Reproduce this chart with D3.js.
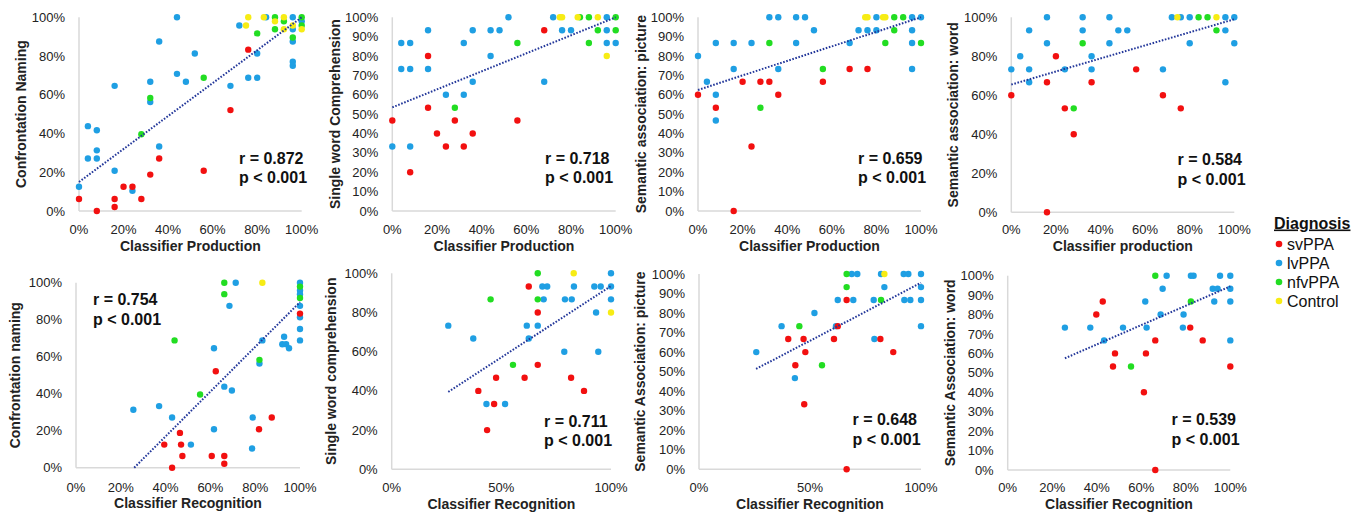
<!DOCTYPE html>
<html><head><meta charset="utf-8">
<script src="https://cdn.jsdelivr.net/npm/d3@7"></script>
<style>body{margin:0;background:#fff}svg{display:block}text{font-family:"Liberation Sans",Arial,sans-serif}</style>
</head><body><svg id="c" width="1363" height="516"></svg>
<script>
// ---------------- DATA ----------------
const groups = ["svPPA","lvPPA","nfvPPA","Control"];
const groupColors = ["#f21010","#1f9fe3","#22dd22","#f7ec14"];

// Panel 1: Classifier Production vs Confrontation Naming
const p1_sv = [[0,6.2],[8,0],[16,6.2],[16,2.1],[20,12.5],[24,12.5],[28,6.2],[32,18.8],[36,27.1],[56,20.8],[68,52.1],[76,83.3]];
const p1_lv = [[0,12.5],[4,43.8],[4,27.1],[8,41.7],[8,31.3],[8,27.1],[16,64.6],[16,20.8],[24,10.4],[32,66.7],[32,56.3],[36,87.5],[36,33.3],[44,100],[44,70.8],[48,66.7],[52,81.3],[68,64.6],[72,95.8],[76,68.8],[80,68.8],[80,81.3],[84,100],[96,100],[96,93.8],[96,87.5],[96,77.1],[96,75],[100,98]];
const p1_nf = [[28,39.6],[32,58.3],[56,68.8],[80,91.7],[88,100],[88,93.8],[92,97.9],[96,89.6],[100,100],[100,95.8]];
const p1_ct = [[76,100],[75,95.8],[83,100],[88,97.9],[92,100],[92,93.8],[96,95.8],[100,93.8]];

// Panel 2: Classifier Production vs Single word Comprehension
const p2_sv = [[0,46.7],[8,20],[16,80],[16,53.3],[20,40],[24,33.3],[28,46.7],[32,33.3],[36,40],[56,46.7],[68,93.3]];
const p2_lv = [[0,33.3],[4,86.7],[4,73.3],[8,86.7],[8,73.3],[8,33.3],[16,93.3],[16,73.3],[24,60],[32,86.7],[32,60],[36,93.3],[36,66.7],[44,93.3],[44,80],[48,93.3],[52,100],[68,66.7],[72,100],[76,93.3],[80,93.3],[96,100],[96,93.3],[96,86.7],[100,86.7]];
const p2_nf = [[28,53.3],[56,86.7],[84,100],[88,100],[88,86.7],[92,93.3],[100,100],[100,93.3]];
const p2_ct = [[75,100],[76,100],[83,100],[92,100],[96,80]];

// Panel 3: Classifier Production vs Semantic association: picture
const p3_sv = [[0,60],[8,53.3],[16,0],[20,66.7],[24,33.3],[28,66.7],[32,66.7],[36,60],[56,66.7],[68,73.3],[76,73.3]];
const p3_lv = [[0,80],[4,66.7],[8,86.7],[8,60],[8,46.7],[16,86.7],[16,73.3],[24,86.7],[32,100],[36,100],[36,73.3],[44,100],[44,86.7],[48,100],[52,93.3],[68,86.7],[72,93.3],[76,93.3],[80,100],[80,93.3],[96,100],[96,93.3],[96,86.7],[96,73.3],[100,100]];
const p3_nf = [[28,53.3],[32,86.7],[56,73.3],[84,86.7],[88,100],[88,93.3],[92,100],[100,86.7]];
const p3_ct = [[75,100],[76,100],[83,100],[84,100]];

// Panel 4: Classifier production vs Semantic association: word
const p4_sv = [[0,60],[16,0],[16,66.7],[20,80],[24,53.3],[28,40],[36,66.7],[56,73.3],[68,60],[76,53.3]];
const p4_lv = [[0,73.3],[4,80],[8,93.3],[8,73.3],[8,66.7],[16,100],[16,86.7],[24,73.3],[32,100],[32,93.3],[36,80],[36,73.3],[44,100],[44,86.7],[48,93.3],[52,93.3],[68,73.3],[72,100],[76,100],[80,100],[80,86.7],[96,100],[96,93.3],[96,66.7],[100,100],[100,86.7]];
const p4_nf = [[28,53.3],[32,86.7],[84,100],[88,100],[92,93.3]];
const p4_ct = [[74.5,100],[92,100]];

// Panel 5: Classifier Recognition vs Confrontation naming
const p5_sv = [[39.4,12.5],[42.9,0],[46.4,18.8],[46.9,12.5],[47.5,6.3],[60.6,6.3],[62.4,52.1],[66.2,6.3],[66.2,2.1],[81.7,20.8],[87.4,27.1],[100,83.3]];
const p5_lv = [[25.6,31.3],[37.1,33.3],[42.9,27.1],[51.3,12.5],[61.6,64.6],[61.6,20.8],[66.2,43.8],[68.5,87.5],[69.6,41.7],[71.3,100],[78.6,10.4],[78.9,27.1],[81.9,56.3],[83.2,68.8],[92.9,70.8],[92.1,66.7],[93.8,66.7],[95.1,64.6],[100,100],[100,95.8],[100,93.8],[100,87.5],[100,81.3],[100,75],[100,68.8]];
const p5_nf = [[44,68.8],[55.4,39.6],[66.2,100],[66.2,93.8],[81.9,58.3],[100,97.9],[100,91.7]];
const p5_ct = [[83.2,100]];

// Panel 6: Classifier Recognition vs Single word comprehension
const p6_sv = [[39.5,40],[43.5,20],[46.7,33.3],[47.6,46.7],[60.6,46.7],[62.5,93.3],[66.6,80],[66.6,53.3],[81.8,46.7],[87.7,40]];
const p6_lv = [[25.8,73.3],[37.2,66.7],[43.2,33.3],[51.7,33.3],[61.6,73.3],[62.5,66.7],[66.6,73.3],[68.7,93.3],[70.9,93.3],[69.3,86.7],[78.7,60],[79,86.7],[82.1,86.7],[83.1,93.3],[92.4,93.3],[95.3,93.3],[93.2,80],[94.2,60],[100,100],[100,93.3],[100,86.7]];
const p6_nf = [[45.1,86.7],[55.3,53.3],[66.6,100],[66.6,86.7]];
const p6_ct = [[83,100],[100,80]];

// Panel 7: Classifier Recognition vs Semantic Association: picture
const p7_sv = [[40.2,66.7],[43.4,53.3],[47.1,66.7],[47.4,33.3],[47.9,60],[60.8,66.7],[62.5,73.3],[66.5,86.7],[66.5,0],[81.7,66.7],[87.5,60]];
const p7_lv = [[25.8,60],[37.2,73.3],[43.2,46.7],[52,80],[62.5,86.7],[61.7,73.3],[68.8,100],[71.3,100],[69.5,86.7],[78.7,86.7],[79,66.7],[82,100],[83.5,93.3],[92.2,100],[94.3,100],[92.5,86.7],[95.2,86.7],[100,100],[100,93.3],[100,86.7],[100,73.3]];
const p7_nf = [[45.2,73.3],[55.4,53.3],[66.5,100],[66.5,93.3],[82,86.7]];
const p7_ct = [[83.5,100]];

// Panel 8: Classifier Recognition vs Semantic Association: word
const p8_sv = [[39.8,80],[42.7,86.7],[47.3,53.3],[48.2,60],[61.2,40],[62.1,60],[66.3,66.7],[66.3,0],[82,73.3],[87.6,66.7],[100,53.3]];
const p8_lv = [[25.7,73.3],[37.1,73.3],[43.3,66.7],[51.8,73.3],[61.8,86.7],[62.4,73.3],[68.7,80],[69.6,93.3],[71.4,100],[79,80],[78.7,73.3],[82.3,100],[83.5,100],[92.1,93.3],[94.3,93.3],[92.8,86.7],[95.4,100],[100,100],[100,93.3],[100,86.7],[100,66.7]];
const p8_nf = [[55.4,53.3],[66.3,100],[82.3,86.7]];
const p8_ct = [];

const xLabels = ["Classifier Production","Classifier Production","Classifier Production","Classifier production",
                 "Classifier Recognition","Classifier Recognition","Classifier Recognition","Classifier Recognition"];
const yLabels = ["Confrontation Naming","Single word Comprehension","Semantic association: picture","Semantic association: word",
                 "Confrontation naming","Single word comprehension","Semantic Association: picture","Semantic Association: word"];
const rValues = ["0.872","0.718","0.659","0.584","0.754","0.711","0.648","0.539"];
const pValues = ["0.001","0.001","0.001","0.001","0.001","0.001","0.001","0.001"];
// trend line endpoints: [x0,y0,x1,y1]
const trends = [[0,15,100,100],[0,53.5,100,100],[0,62.5,100,100],[0,65.5,100,99],
                [26,0,100,89.5],[25.8,39.5,100,93.5],[25.7,51.4,100,95.5],[25.7,57.5,100,94.5]];
const xTicks = [[0,20,40,60,80,100],[0,20,40,60,80,100],[0,20,40,60,80,100],[0,20,40,60,80,100],
                [0,20,40,60,80,100],[0,50,100],[0,50,100],[0,20,40,60,80,100]];
const yTicksStep = [20,10,10,20,20,20,10,10];

const panelData = [
  [p1_sv,p1_lv,p1_nf,p1_ct],[p2_sv,p2_lv,p2_nf,p2_ct],[p3_sv,p3_lv,p3_nf,p3_ct],[p4_sv,p4_lv,p4_nf,p4_ct],
  [p5_sv,p5_lv,p5_nf,p5_ct],[p6_sv,p6_lv,p6_nf,p6_ct],[p7_sv,p7_lv,p7_nf,p7_ct],[p8_sv,p8_lv,p8_nf,p8_ct]];

// ---------------- LAYOUT ----------------
const layout = [
  {x0:79,   x1:301.7,  yT:17.3,  yB:211,   ylx:21,   tickY:234, xlabY:251, sx:239,    sy:163.5},
  {x0:392.3,x1:615.7,  yT:17.3,  yB:211,   ylx:335,  tickY:234, xlabY:251, sx:545,    sy:163.5},
  {x0:698,  x1:921,    yT:17.3,  yB:211,   ylx:641,  tickY:234, xlabY:251, sx:858,    sy:163.5},
  {x0:1011.3,x1:1234.3,yT:17.3,  yB:212.3, ylx:953,  tickY:234, xlabY:251, sx:1177.5, sy:165},
  {x0:76,   x1:300,    yT:282.7, yB:467.7, ylx:15,   tickY:492, xlabY:508, sx:93,     sy:305},
  {x0:391.7,x1:611,    yT:273.3, yB:469.3, ylx:331.5,tickY:492, xlabY:509, sx:544,    sy:426.5},
  {x0:699,  x1:921,    yT:274,   yB:469.3, ylx:640,  tickY:492, xlabY:509, sx:852.5,  sy:425},
  {x0:1007.7,x1:1230.3,yT:275.7, yB:470,   ylx:950,  tickY:492, xlabY:509, sx:1171.5, sy:425}
];

const svg = d3.select("#c");
const drawOrder = [1,0,2,3];

layout.forEach((L,i)=>{
  const g = svg.append("g");
  const x = d3.scaleLinear().domain([0,100]).range([L.x0,L.x1]);
  const y = d3.scaleLinear().domain([0,100]).range([L.yB,L.yT]);
  const yt = d3.range(0,100.001,yTicksStep[i]);

  // axis lines (light gray)
  g.append("line").attr("x1",L.x0).attr("x2",L.x0).attr("y1",L.yT).attr("y2",L.yB)
    .attr("stroke","#d9d9d9").attr("stroke-width",1.5);
  g.append("line").attr("x1",L.x0).attr("x2",L.x1).attr("y1",L.yB).attr("y2",L.yB)
    .attr("stroke","#d9d9d9").attr("stroke-width",1.5);

  // y ticks labels
  g.selectAll(".yt").data(yt).enter().append("text")
    .attr("x",L.x0-14).attr("y",d=>y(d)).attr("dy","0.35em")
    .attr("text-anchor","end").attr("font-size",13).attr("fill","#222")
    .text(d=>d+"%");
  // x ticks labels
  g.selectAll(".xt").data(xTicks[i]).enter().append("text")
    .attr("x",d=>x(d)).attr("y",L.tickY)
    .attr("text-anchor","middle").attr("font-size",13).attr("fill","#222")
    .text(d=>d+"%");

  // axis titles
  g.append("text").attr("x",(L.x0+L.x1)/2).attr("y",L.xlabY).attr("text-anchor","middle")
    .attr("font-size",14).attr("font-weight","bold").attr("fill","#222").text(xLabels[i]);
  g.append("text").attr("transform",`translate(${L.ylx},${(L.yT+L.yB)/2}) rotate(-90)`)
    .attr("dy","0.35em").attr("text-anchor","middle")
    .attr("font-size",14).attr("font-weight","bold").attr("fill","#222").text(yLabels[i]);

  // points
  drawOrder.forEach(gi=>{
    g.selectAll(null).data(panelData[i][gi]).enter().append("circle")
      .attr("cx",d=>x(d[0])).attr("cy",d=>y(d[1])).attr("r",3.2)
      .attr("fill",groupColors[gi]);
  });

  // trend line
  const t = trends[i];
  g.append("line").attr("x1",x(t[0])).attr("y1",y(t[1])).attr("x2",x(t[2])).attr("y2",y(t[3]))
    .attr("stroke","#23379a").attr("stroke-width",2).attr("stroke-dasharray","1.6,1.6");

  // stats
  g.append("text").attr("x",L.sx).attr("y",L.sy).attr("font-size",16).attr("font-weight","bold")
    .attr("fill","#111").text("r = "+rValues[i]);
  g.append("text").attr("x",L.sx).attr("y",L.sy+19.5).attr("font-size",16).attr("font-weight","bold")
    .attr("fill","#111").text("p < "+pValues[i]);
});

// legend
const lg = svg.append("g");
lg.append("text").attr("x",1274).attr("y",228.5).attr("font-size",16).attr("font-weight","bold")
  .attr("fill","#111").attr("text-decoration","underline").text("Diagnosis");
groups.forEach((name,gi)=>{
  const cy = 244 + gi*19;
  lg.append("circle").attr("cx",1279).attr("cy",cy).attr("r",3.3).attr("fill",groupColors[gi]);
  lg.append("text").attr("x",1287).attr("y",cy).attr("dy","0.35em").attr("font-size",16)
    .attr("fill","#111").text(name);
});
</script></body></html>
